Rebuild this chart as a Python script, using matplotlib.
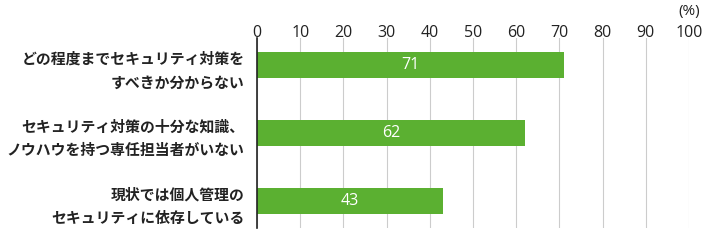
import matplotlib.pyplot as plt
import numpy as np

plt.rcParams['font.family'] = ['Noto Sans CJK JP', 'DejaVu Sans']

labels = ["どの程度までセキュリティ対策を\nすべきか分からない",
          "セキュリティ対策の十分な知識、\nノウハウを持つ専任担当者がいない",
          "現状では個人管理の\nセキュリティに依存している"]
values = [71, 62, 43]
ticks = list(range(0, 101, 10))

fig = plt.figure(figsize=(7.2, 2.4), dpi=100)
ax = fig.add_axes([0.357, 0.05, 0.6, 0.792])

y = np.arange(len(values))
ax.barh(y, values, height=0.38, color='#5bb031', zorder=2)
for yi, v in zip(y, values):
    ax.text(v / 2, yi, str(v), color='white', fontsize=11.5, family='Open Sans',
            ha='center', va='center', zorder=3)

ax.set_xlim(0, 100)
ax.set_ylim(2.4, -0.4)
ax.xaxis.tick_top()
ax.set_xticks(ticks)
ax.set_xticklabels([str(t) for t in ticks], family='Open Sans', fontsize=11.5,
                   color='#222222')
ax.tick_params(axis='x', length=0, pad=-2)
ax.set_yticks(y)
ax.set_yticklabels(labels, fontsize=10.7, fontweight='bold', color='#222222',
                   linespacing=1.6)
ax.tick_params(axis='y', length=0, pad=9)
for lab in ax.get_yticklabels():
    lab.set_multialignment('right')
ax.grid(axis='x', color='#cccccc', linewidth=0.8, zorder=0)
for s in ['top', 'right', 'bottom']:
    ax.spines[s].set_visible(False)
ax.spines['left'].set_color('#222222')
ax.spines['left'].set_linewidth(1.2)
ax.spines['left'].set_zorder(4)

fig.text(689 / 720, 1 - 12 / 240, '(%)', fontsize=11, family='Open Sans',
         color='#222222', ha='center', va='center')

fig.savefig('out.png', dpi=100)
